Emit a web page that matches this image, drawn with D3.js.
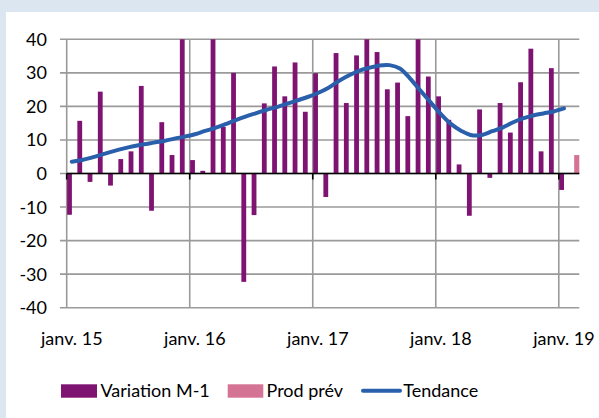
<!DOCTYPE html>
<html>
<head>
<meta charset="utf-8">
<script src="https://cdn.jsdelivr.net/npm/d3@7/dist/d3.min.js"></script>
<style>
  body { margin: 0; background: #fff; }
  svg text { font-family: Lato, "Open Sans", sans-serif; fill: #000; }
</style>
</head>
<body>
<svg id="chart" width="599" height="418"></svg>
<script>
// monthly data, janv. 15 -> janv. 19
var variation = [
  -12.3, 15.7, -2.5, 24.4, -3.6, 4.3, 6.6, 26.1, -11.1, 15.3, 5.5, 40,
  4.0, 0.8, 40, 13.9, 30, -32.3, -12.4, 20.9, 31.9, 23.0, 33.1, 18.4,
  29.9, -7.0, 35.9, 21.0, 35.2, 40, 36.2, 25.1, 27.1, 17.1, 40, 28.9,
  23.0, 16.0, 2.7, -12.6, 19.1, -1.3, 21.0, 12.2, 27.2, 37.2, 6.6, 31.4,
  -4.9
];
var tendance = [
  3.5, 4.0, 4.8, 5.7, 6.6, 7.4, 8.1, 8.7, 9.2, 9.7, 10.4, 11.0,
  11.7, 12.7, 13.6, 14.7, 15.9, 17.0, 18.0, 19.0, 19.8, 20.8, 21.8, 22.8,
  24.0, 25.5, 27.5, 29.2, 30.6, 31.5, 32.2, 32.3, 31.3, 28.3, 24.7, 21.2,
  17.7, 14.7, 12.7, 11.4, 11.5, 12.6, 13.7, 15.2, 16.4, 17.3, 17.9, 18.5,
  19.4
];
var prodPrev = [{ month: 49, value: 5.5 }];   // févr. 19
var yTicks = [-40, -30, -20, -10, 0, 10, 20, 30, 40];
var xTickMonths = [0, 12, 24, 36, 48];
var xTickLabels = ['janv. 15', 'janv. 16', 'janv. 17', 'janv. 18', 'janv. 19'];

var svg = d3.select('#chart');

// light blue frame
svg.append('rect').attr('width', 599).attr('height', 418).attr('fill', '#dce6f1');
svg.append('rect').attr('x', 6).attr('y', 12).attr('width', 593).attr('height', 406).attr('fill', '#fff');

var x = d3.scaleLinear().domain([0, 50]).range([66.7, 579.3]),
    y = d3.scaleLinear().domain([-40, 40]).range([307.7, 39.3]),
    step = x(1) - x(0);

var purple = '#7f1372', pink = '#d47394', blue = '#2a5fac';

// horizontal grid + outer ticks
svg.append('g')
  .selectAll('line').data(yTicks).enter().append('line')
  .attr('x1', 60).attr('x2', 579.3)
  .attr('y1', function (d) { return y(d); }).attr('y2', function (d) { return y(d); })
  .attr('stroke', '#9a9a9a').attr('stroke-width', 1.6);

// vertical grid at each January
svg.append('g')
  .selectAll('line').data(xTickMonths).enter().append('line')
  .attr('x1', function (d) { return x(d); }).attr('x2', function (d) { return x(d); })
  .attr('y1', y(40)).attr('y2', y(-40))
  .attr('stroke', '#9a9a9a').attr('stroke-width', 1.6);

// y labels
svg.append('g')
  .selectAll('text').data(yTicks).enter().append('text')
  .attr('x', 47).attr('y', function (d) { return y(d); })
  .attr('dy', '0.36em').attr('text-anchor', 'end')
  .style('font-size', '18px')
  .text(function (d) { return d; });

// bars
svg.append('g')
  .selectAll('rect').data(variation).enter().append('rect')
  .attr('x', function (d, i) { return x(i) + 0.4; })
  .attr('width', 4.8)
  .attr('y', function (d) { return y(Math.max(0, d)); })
  .attr('height', function (d) { return Math.abs(y(d) - y(0)); })
  .attr('fill', purple);

svg.append('g')
  .selectAll('rect').data(prodPrev).enter().append('rect')
  .attr('x', function (d) { return x(d.month) + step / 2; })
  .attr('width', step / 2)
  .attr('y', function (d) { return y(Math.max(0, d.value)); })
  .attr('height', function (d) { return Math.abs(y(d.value) - y(0)); })
  .attr('fill', pink);

// zero axis with ticks
svg.append('line')
  .attr('x1', x(0)).attr('x2', 579.3).attr('y1', y(0)).attr('y2', y(0))
  .attr('stroke', '#000').attr('stroke-width', 1.3);
svg.append('g')
  .selectAll('line').data(xTickMonths).enter().append('line')
  .attr('x1', function (d) { return x(d); }).attr('x2', function (d) { return x(d); })
  .attr('y1', y(0)).attr('y2', y(0) + 6)
  .attr('stroke', '#000').attr('stroke-width', 1.6);

// trend line
var line = d3.line()
  .x(function (d, i) { return x(i) + step / 2; })
  .y(function (d) { return y(d); })
  .curve(d3.curveCatmullRom.alpha(0.5));
svg.append('path')
  .datum(tendance)
  .attr('d', line)
  .attr('fill', 'none').attr('stroke', blue).attr('stroke-width', 4)
  .attr('stroke-linecap', 'round');

// x labels
svg.append('g')
  .selectAll('text').data(xTickMonths).enter().append('text')
  .attr('x', function (d) { return x(d) + step / 2; }).attr('y', 345)
  .attr('text-anchor', 'middle')
  .style('font-size', '18px')
  .text(function (d, i) { return xTickLabels[i]; });

// legend
var legend = svg.append('g').style('font-size', '18px');
legend.append('rect').attr('x', 61).attr('y', 384.3).attr('width', 36).attr('height', 13.4).attr('fill', purple);
legend.append('text').attr('x', 100.5).attr('y', 397).text('Variation M-1');
legend.append('rect').attr('x', 227.7).attr('y', 384.3).attr('width', 35.6).attr('height', 13.4).attr('fill', pink);
legend.append('text').attr('x', 266.5).attr('y', 397).text('Prod prév');
legend.append('line').attr('x1', 363).attr('x2', 400).attr('y1', 390.7).attr('y2', 390.7)
  .attr('stroke', blue).attr('stroke-width', 4).attr('stroke-linecap', 'round');
legend.append('text').attr('x', 403.3).attr('y', 397).text('Tendance');
</script>
</body>
</html>
